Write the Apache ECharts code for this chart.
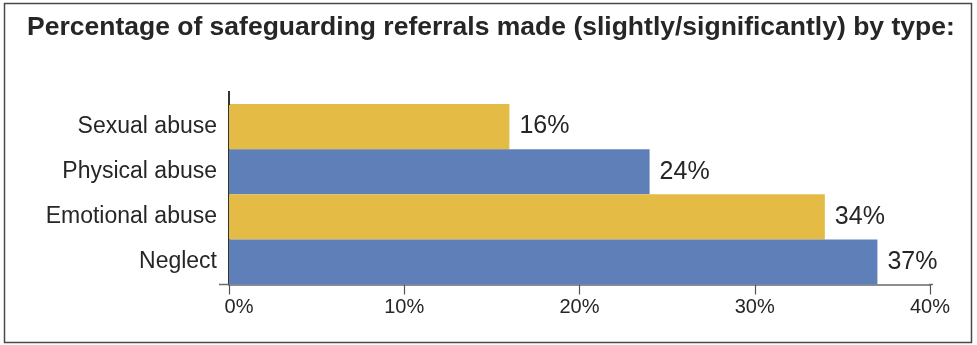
<!DOCTYPE html>
<html>
<head>
<meta charset="utf-8">
<style>
  html, body { margin: 0; padding: 0; background: #fff; }
  #chart { width: 977px; height: 345px; }
</style>
<script src="https://cdn.jsdelivr.net/npm/echarts@6/dist/echarts.min.js"></script>
</head>
<body>
<div id="chart"></div>
<script>
// Referral types, top to bottom
const categories = ['Sexual abuse', 'Physical abuse', 'Emotional abuse', 'Neglect'];
// Share of safeguarding referrals (%)
const values = [16, 24, 34, 37];
// Alternating bar fills
const barColors = ['#E3BB45', '#5F7FB8', '#E3BB45', '#5F7FB8'];
// Value-axis ticks
const tickValues = [0, 10, 20, 30, 40];

const FONT = '"Liberation Sans", Arial, Helvetica, sans-serif';
const TEXT = '#262626';

const chart = echarts.init(document.getElementById('chart'), null, { renderer: 'canvas' });

chart.setOption({
  animation: false,
  backgroundColor: '#fff',
  title: {
    text: 'Percentage of safeguarding referrals made (slightly/significantly) by type:',
    left: 22,
    top: 9,
    textStyle: { fontFamily: FONT, fontSize: 26.5, fontWeight: 'bold', color: TEXT }
  },
  grid: { left: 229, right: 47, top: 104, bottom: 60.5, containLabel: false },
  xAxis: {
    type: 'value',
    min: tickValues[0],
    max: tickValues[tickValues.length - 1],
    interval: 10,
    splitLine: { show: false },
    axisLine: { show: true, lineStyle: { color: '#6a6a6a', width: 1.5 } },
    axisTick: { show: true, length: 10, lineStyle: { color: '#555', width: 1.2 } },
    axisLabel: {
      margin: 13,
      fontFamily: FONT,
      fontSize: 20,
      color: TEXT,
      formatter: v => (v === tickValues[0] ? '{first|' + v + '%}' : v + '%'),
      rich: { first: { fontFamily: FONT, fontSize: 20, color: TEXT, padding: [0, 0, 0, 20] } }
    }
  },
  yAxis: {
    type: 'category',
    data: categories,
    inverse: true,
    axisLine: { show: true, lineStyle: { color: '#333', width: 2 } },
    axisTick: { show: false },
    axisLabel: { margin: 12, fontFamily: FONT, fontSize: 23, color: TEXT }
  },
  series: [{
    type: 'bar',
    barCategoryGap: 0,
    data: values.map((v, i) => ({ value: v, itemStyle: { color: barColors[i] } })),
    label: {
      show: true,
      position: 'right',
      distance: 10,
      fontFamily: FONT,
      fontSize: 25,
      color: TEXT,
      formatter: p => p.value + '%'
    },
    z: 1
  }],
  graphic: [
    // outer frame
    {
      type: 'rect', silent: true,
      shape: { x: 4.5, y: 3.5, width: 967, height: 339 },
      style: { fill: null, stroke: '#4a4a4a', lineWidth: 1.5 }
    },
    // category axis runs a little above the first bar
    {
      type: 'line', silent: true, z: 10,
      shape: { x1: 229, y1: 91, x2: 229, y2: 105 },
      style: { stroke: '#333', lineWidth: 2 }
    },
    // value axis overhangs past zero
    {
      type: 'line', silent: true, z: 10,
      shape: { x1: 219, y1: 284.5, x2: 230, y2: 284.5 },
      style: { stroke: '#6a6a6a', lineWidth: 1.5 }
    },
    {
      type: 'line', silent: true, z: 10,
      shape: { x1: 929, y1: 284.5, x2: 933, y2: 284.5 },
      style: { stroke: '#6a6a6a', lineWidth: 1.5 }
    }
  ]
});
</script>
</body>
</html>
